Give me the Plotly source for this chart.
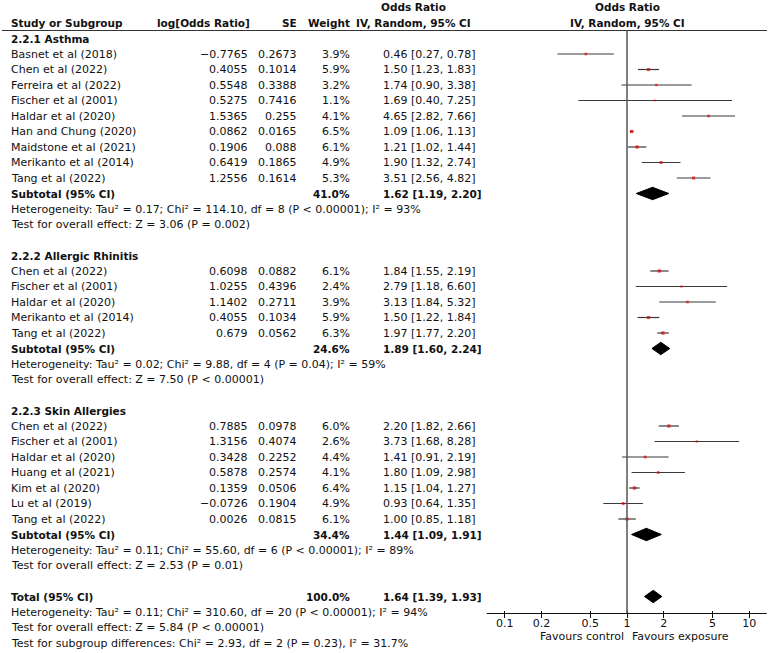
import math
import plotly.graph_objects as go

# ---------------- data ----------------
group_names = ["2.2.1 Asthma", "2.2.2 Allergic Rhinitis", "2.2.3 Skin Allergies"]

studies_asthma = ["Basnet et al (2018)", "Chen et al (2022)", "Ferreira et al (2022)",
                  "Fischer et al (2001)", "Haldar et al (2020)", "Han and Chung (2020)",
                  "Maidstone et al (2021)", "Merikanto et al (2014)", "Tang et al (2022)"]
logor_asthma = [-0.7765, 0.4055, 0.5548, 0.5275, 1.5365, 0.0862, 0.1906, 0.6419, 1.2556]
se_asthma = [0.2673, 0.1014, 0.3388, 0.7416, 0.255, 0.0165, 0.088, 0.1865, 0.1614]
weight_asthma = [3.9, 5.9, 3.2, 1.1, 4.1, 6.5, 6.1, 4.9, 5.3]
or_asthma = [0.46, 1.50, 1.74, 1.69, 4.65, 1.09, 1.21, 1.90, 3.51]
lo_asthma = [0.27, 1.23, 0.90, 0.40, 2.82, 1.06, 1.02, 1.32, 2.56]
hi_asthma = [0.78, 1.83, 3.38, 7.25, 7.66, 1.13, 1.44, 2.74, 4.82]

studies_rhinitis = ["Chen et al (2022)", "Fischer et al (2001)", "Haldar et al (2020)",
                    "Merikanto et al (2014)", "Tang et al (2022)"]
logor_rhinitis = [0.6098, 1.0255, 1.1402, 0.4055, 0.679]
se_rhinitis = [0.0882, 0.4396, 0.2711, 0.1034, 0.0562]
weight_rhinitis = [6.1, 2.4, 3.9, 5.9, 6.3]
or_rhinitis = [1.84, 2.79, 3.13, 1.50, 1.97]
lo_rhinitis = [1.55, 1.18, 1.84, 1.22, 1.77]
hi_rhinitis = [2.19, 6.60, 5.32, 1.84, 2.20]

studies_skin = ["Chen et al (2022)", "Fischer et al (2001)", "Haldar et al (2020)",
                "Huang et al (2021)", "Kim et al (2020)", "Lu et al (2019)", "Tang et al (2022)"]
logor_skin = [0.7885, 1.3156, 0.3428, 0.5878, 0.1359, -0.0726, 0.0026]
se_skin = [0.0978, 0.4074, 0.2252, 0.2574, 0.0506, 0.1904, 0.0815]
weight_skin = [6.0, 2.6, 4.4, 4.1, 6.4, 4.9, 6.1]
or_skin = [2.20, 3.73, 1.41, 1.80, 1.15, 0.93, 1.00]
lo_skin = [1.82, 1.68, 0.91, 1.09, 1.04, 0.64, 0.85]
hi_skin = [2.66, 8.28, 2.19, 2.98, 1.27, 1.35, 1.18]

subtotal_weight = [41.0, 24.6, 34.4]
subtotal_or = [1.62, 1.89, 1.44]
subtotal_lo = [1.19, 1.60, 1.09]
subtotal_hi = [2.20, 2.24, 1.91]
heterogeneity_text = [
    "Heterogeneity: Tau² = 0.17; Chi² = 114.10, df = 8 (P < 0.00001); I² = 93%",
    "Heterogeneity: Tau² = 0.02; Chi² = 9.88, df = 4 (P = 0.04); I² = 59%",
    "Heterogeneity: Tau² = 0.11; Chi² = 55.60, df = 6 (P < 0.00001); I² = 89%",
]
overall_text = [
    "Test for overall effect: Z = 3.06 (P = 0.002)",
    "Test for overall effect: Z = 7.50 (P < 0.00001)",
    "Test for overall effect: Z = 2.53 (P = 0.01)",
]

total_weight = 100.0
total_or, total_lo, total_hi = 1.64, 1.39, 1.93
total_text = [
    "Heterogeneity: Tau² = 0.11; Chi² = 310.60, df = 20 (P < 0.00001); I² = 94%",
    "Test for overall effect: Z = 5.84 (P < 0.00001)",
    "Test for subgroup differences: Chi² = 2.93, df = 2 (P = 0.23), I² = 31.7%",
]

tick_vals = [0.1, 0.2, 0.5, 1, 2, 5, 10]
tick_text = ["0.1", "0.2", "0.5", "1", "2", "5", "10"]
favours_left = "Favours control"
favours_right = "Favours exposure"

groups = [
    (studies_asthma, logor_asthma, se_asthma, weight_asthma, or_asthma, lo_asthma, hi_asthma),
    (studies_rhinitis, logor_rhinitis, se_rhinitis, weight_rhinitis, or_rhinitis, lo_rhinitis, hi_rhinitis),
    (studies_skin, logor_skin, se_skin, weight_skin, or_skin, lo_skin, hi_skin),
]

# ---------------- layout constants ----------------
W, H = 777, 653
FONT = "DejaVu Sans"
PITCH = 15.5
Y0 = 38.5
COL_NAME, COL_LOG, COL_SE, COL_W, COL_CI, COL_CIHEAD = 9, 250, 299, 352, 381, 413
DIA_H = 6.2
AXIS_Y = 613.5
LINE_Y = 30.5

ann = []


def txt(x, y, s, anchor="left", bold=False, xref="x"):
    ann.append(dict(x=x, y=y, xref=xref, yref="y", text=f"<b>{s}</b>" if bold else s,
                    showarrow=False, xanchor=anchor, yanchor="middle",
                    font=dict(family=FONT, size=10.5 if bold else 11, color="#111")))


def fmt_num(v):
    return str(v).replace("-", "−")


def fmt_ci(o, l, h):
    return f"{o:.2f} [{l:.2f}, {h:.2f}]"


def rowy(i):
    return Y0 + PITCH * i


# header
txt(COL_CIHEAD, 7, "Odds Ratio", anchor="center", bold=True)
txt(COL_NAME, 22.5, "Study or Subgroup", bold=True)
txt(COL_LOG + 2, 22.5, "log[Odds Ratio]", anchor="right", bold=True)
txt(COL_SE, 22.5, "SE", anchor="right", bold=True)
txt(COL_W, 22.5, "Weight", anchor="right", bold=True)
txt(COL_CIHEAD, 22.5, "IV, Random, 95% CI", anchor="center", bold=True)
# right-hand header centred on the line of no effect (log axis -> log10 of the value)
txt(math.log10(1), 7, "Odds Ratio", anchor="center", bold=True, xref="x2")
txt(math.log10(1), 22.5, "IV, Random, 95% CI", anchor="center", bold=True, xref="x2")

ci_x, ci_y = [], []
sq_x, sq_y, sq_s = [], [], []
dia_x, dia_y = [], []


def diamond(o, l, h, y):
    dia_x.extend([l, o, h, o, l, None])
    dia_y.extend([y, y - DIA_H, y, y + DIA_H, y, None])


i = 0
for g, (names, lors, ses, ws, ors, los, his) in enumerate(groups):
    txt(COL_NAME, rowy(i), group_names[g], bold=True)
    i += 1
    for n, lr, se, w, o, l, h in zip(names, lors, ses, ws, ors, los, his):
        y = rowy(i)
        txt(COL_NAME, y, n)
        txt(COL_LOG, y, fmt_num(lr), anchor="right")
        txt(COL_SE, y, fmt_num(se), anchor="right")
        txt(COL_W, y, f"{w:.1f}%", anchor="right")
        txt(COL_CI, y, fmt_ci(o, l, h))
        ci_x.extend([l, h, None])
        ci_y.extend([y, y, None])
        sq_x.append(o)
        sq_y.append(y)
        sq_s.append(1.4 + 0.3 * w)
        i += 1
    y = rowy(i)
    txt(COL_NAME, y, "Subtotal (95% CI)", bold=True)
    txt(COL_W, y, f"{subtotal_weight[g]:.1f}%", anchor="right", bold=True)
    txt(COL_CI, y, fmt_ci(subtotal_or[g], subtotal_lo[g], subtotal_hi[g]), bold=True)
    diamond(subtotal_or[g], subtotal_lo[g], subtotal_hi[g], y)
    i += 1
    txt(COL_NAME, rowy(i), heterogeneity_text[g])
    i += 1
    txt(COL_NAME, rowy(i), overall_text[g])
    i += 2

y = rowy(i)
txt(COL_NAME, y, "Total (95% CI)", bold=True)
txt(COL_W, y, f"{total_weight:.1f}%", anchor="right", bold=True)
txt(COL_CI, y, fmt_ci(total_or, total_lo, total_hi), bold=True)
diamond(total_or, total_lo, total_hi, y)
i += 1
for t in total_text:
    txt(COL_NAME, rowy(i), t)
    i += 1

# favours labels
ann.append(dict(x=math.log10(1), y=636.5, xref="x2", yref="y", text=favours_left, showarrow=False,
                xanchor="right", yanchor="middle", xshift=-1,
                font=dict(family=FONT, size=11, color="#111")))
ann.append(dict(x=math.log10(1), y=636.5, xref="x2", yref="y", text=favours_right, showarrow=False,
                xanchor="left", yanchor="middle", xshift=3,
                font=dict(family=FONT, size=11, color="#111")))

fig = go.Figure()
fig.add_trace(go.Scatter(x=ci_x, y=ci_y, xaxis="x2", yaxis="y", mode="lines",
                         line=dict(color="#3a3a3a", width=1.2), hoverinfo="skip", showlegend=False))
fig.add_trace(go.Scatter(x=sq_x, y=sq_y, xaxis="x2", yaxis="y", mode="markers",
                         marker=dict(symbol="square", size=sq_s, color="#e00000", line=dict(width=0)),
                         showlegend=False))
fig.add_trace(go.Scatter(x=dia_x, y=dia_y, xaxis="x2", yaxis="y", mode="lines", fill="toself",
                         fillcolor="black", line=dict(color="black", width=1), showlegend=False))

shapes = [
    dict(type="line", xref="x", yref="y", x0=2, x1=767, y0=LINE_Y, y1=LINE_Y,
         line=dict(color="#333", width=1.2)),
    dict(type="line", xref="x2", yref="y", x0=1, x1=1, y0=LINE_Y, y1=AXIS_Y,
         line=dict(color="#555", width=1.5)),
    dict(type="line", xref="x2 domain", yref="y", x0=0, x1=1, y0=AXIS_Y, y1=AXIS_Y,
         line=dict(color="#111", width=1.2)),
]

dom0, dom1 = 486.7 / W, 766.7 / W
fig.update_layout(
    width=W, height=H, margin=dict(l=0, r=0, t=0, b=0),
    paper_bgcolor="white", plot_bgcolor="rgba(0,0,0,0)",
    xaxis=dict(range=[0, W], domain=[0, 1], visible=False, fixedrange=True),
    yaxis=dict(range=[H, 0], domain=[0, 1], visible=False, fixedrange=True),
    xaxis2=dict(type="log", range=[-1.1486, 1.1437], domain=[dom0, dom1], anchor="free",
                position=(H - (AXIS_Y - 3.5)) / H, showline=False, showgrid=False, zeroline=False,
                ticks="outside", ticklen=7, tickwidth=1, tickcolor="#111", fixedrange=True,
                tickvals=tick_vals, ticktext=tick_text, ticklabelstandoff=-4,
                tickfont=dict(family=FONT, size=11, color="#111")),
    annotations=ann,
    shapes=shapes,
    showlegend=False,
)

fig.write_html("out.html", config={"displayModeBar": False},
               post_script="document.body.style.margin='0px';")
